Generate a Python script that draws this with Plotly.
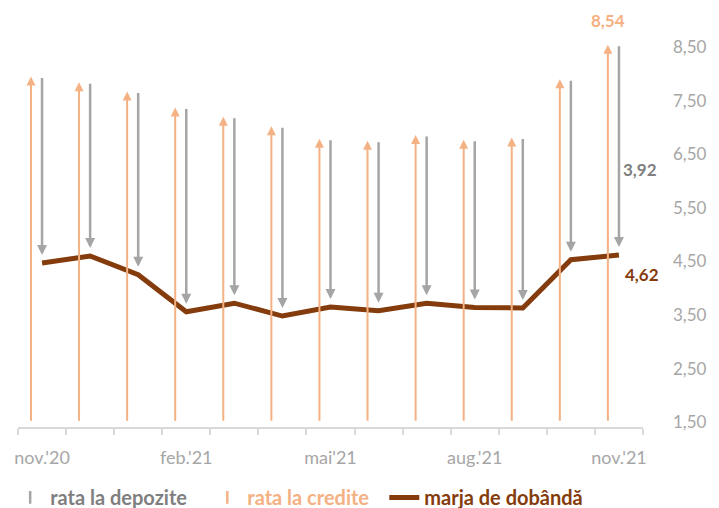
import plotly.graph_objects as go

# ---- data ----
months = ["nov.'20", "dec.'20", "ian.'21", "feb.'21", "mar.'21", "apr.'21", "mai'21",
          "iun.'21", "iul.'21", "aug.'21", "sep.'21", "oct.'21", "nov.'21"]
rata_credite = [7.95, 7.84, 7.67, 7.37, 7.20, 7.02, 6.79, 6.75, 6.86, 6.77, 6.81, 7.90, 8.54]
marja = [4.47, 4.60, 4.25, 3.56, 3.72, 3.48, 3.65, 3.58, 3.72, 3.64, 3.63, 4.53, 4.62]
rata_depozite = [round(c - m, 2) for c, m in zip(rata_credite, marja)]
y_ticks = [1.5, 2.5, 3.5, 4.5, 5.5, 6.5, 7.5, 8.5]
label_months = [0, 3, 6, 9, 12]

# ---- style ----
C_ORANGE = "#f4b183"
C_GRAY = "#a5a5a5"
C_GRAY_TXT = "#7f7f7f"
C_BROWN = "#843c0c"
C_AXIS = "#d9d9d9"
C_TICK = "#a6a6a6"
FONT = "Lato"
ORANGE_OFFSET = -0.23
BASE = 1.5
NBSP = "\u00a0"

def fmt(v):
    return f"{v:.2f}".replace(".", ",")

def colored(txt, col, pad=0):
    return f"<span style='color:{col}'><b>{txt}</b></span>" + NBSP * pad

n = len(months)
xs = list(range(n))

fig = go.Figure()

fig.add_trace(go.Scatter(
    x=xs, y=marja, mode="lines", name="marja de dobândă",
    line=dict(color=C_BROWN, width=5), showlegend=False, hoverinfo="skip"))

# legend-only entries
fig.add_trace(go.Scatter(
    x=[None], y=[None], mode="markers", name=colored("rata la depozite", C_GRAY_TXT, 3),
    marker=dict(symbol="line-ns-open", size=9, color=C_GRAY, line=dict(color=C_GRAY, width=2.5))))
fig.add_trace(go.Scatter(
    x=[None], y=[None], mode="markers", name=colored("rata la credite", C_ORANGE, 2),
    marker=dict(symbol="line-ns-open", size=9, color=C_ORANGE, line=dict(color=C_ORANGE, width=2.5))))
fig.add_trace(go.Scatter(
    x=[None], y=[None], mode="lines", name=colored("marja de dobândă", C_BROWN),
    line=dict(color=C_BROWN, width=5)))

annotations = []
for i in xs:
    xo = i + ORANGE_OFFSET
    annotations.append(dict(
        x=xo, y=rata_credite[i], ax=xo, ay=BASE, xref="x", yref="y", axref="x", ayref="y",
        showarrow=True, arrowhead=2, arrowsize=0.9, arrowwidth=2, arrowcolor=C_ORANGE, text=""))
    annotations.append(dict(
        x=i, y=marja[i], ax=i, ay=rata_credite[i], xref="x", yref="y", axref="x", ayref="y",
        showarrow=True, arrowhead=2, arrowsize=0.8, arrowwidth=2.5, arrowcolor=C_GRAY,
        standoff=8, text=""))

last = n - 1
annotations.append(dict(
    x=last + ORANGE_OFFSET, y=rata_credite[last], xref="x", yref="y", showarrow=False,
    text=f"<b>{fmt(rata_credite[last])}</b>", yshift=24,
    font=dict(family=FONT, size=17, color=C_ORANGE)))
annotations.append(dict(
    x=last, y=marja[last] + rata_depozite[last] / 2, xref="x", yref="y", showarrow=False,
    text=f"<b>{fmt(rata_depozite[last])}</b>", xanchor="left", xshift=2, yshift=-20,
    font=dict(family=FONT, size=17, color=C_GRAY_TXT)))
annotations.append(dict(
    x=last, y=marja[last], xref="x", yref="y", showarrow=False,
    text=f"<b>{fmt(marja[last])}</b>", xanchor="left", xshift=4, yshift=-20,
    font=dict(family=FONT, size=17, color=C_BROWN)))

fig.update_layout(
    width=719, height=508,
    margin=dict(l=10, r=84, t=2, b=89, autoexpand=False),
    paper_bgcolor="white", plot_bgcolor="white",
    font=dict(family=FONT, color=C_TICK, size=17),
    annotations=annotations,
    showlegend=True,
    legend=dict(orientation="h", x=0.003, xanchor="left", xref="container",
                y=0.075, yanchor="top", yref="container",
                font=dict(family=FONT, size=20), tracegroupgap=0,
                bgcolor="rgba(0,0,0,0)"),
    xaxis=dict(
        range=[-0.5, n - 0.5], showgrid=False, zeroline=False,
        showline=True, linecolor=C_AXIS, linewidth=1.5,
        tickmode="array", tickvals=label_months,
        ticktext=[months[i] for i in label_months],
        ticks="", ticklabelstandoff=14, tickfont=dict(family=FONT, size=18, color=C_TICK),
        minor=dict(tickmode="array", tickvals=[i - 0.5 for i in range(n + 1)],
                   ticks="outside", ticklen=6, tickcolor=C_AXIS, tickwidth=1.5, showgrid=False),
    ),
    yaxis=dict(
        range=[1.41, 9.19], side="right", showgrid=False, zeroline=False, showline=False,
        tickmode="array", tickvals=y_ticks, ticktext=[fmt(v) for v in y_ticks],
        ticks="", ticklabelstandoff=29, tickfont=dict(family=FONT, size=17, color=C_TICK),
    ),
)

fig.write_html("out.html")
